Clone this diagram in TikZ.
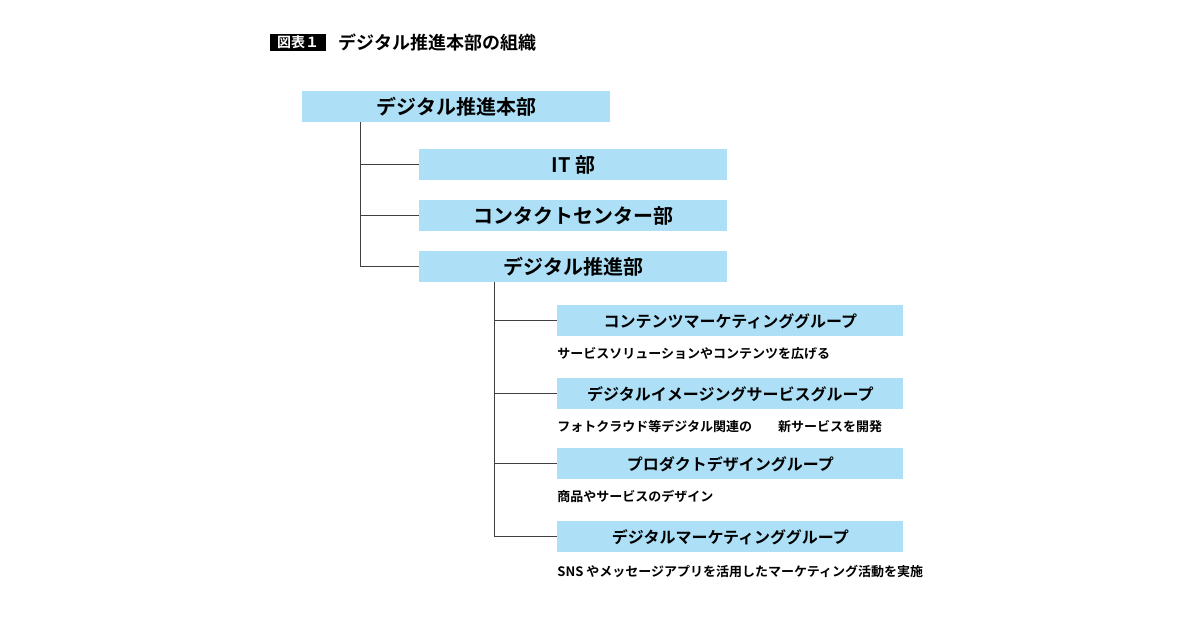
\documentclass[tikz,border=0pt]{standalone}
\usepackage{fontspec}
\newfontfamily\jp{Noto Sans CJK JP}[BoldFont={Noto Sans CJK JP Bold}]
\definecolor{boxblue}{HTML}{ADE0F7}
\begin{document}
\begin{tikzpicture}[x=0.5pt,y=-0.5pt,font=\jp\bfseries,
  bx/.style={fill=boxblue,draw=none,inner sep=0pt,anchor=north west},
  ln/.style={draw=black!75,line width=0.5pt},
  desc/.style={anchor=west,inner sep=0pt,font=\jp\bfseries\fontsize{6.5}{7}\selectfont}]
\useasboundingbox (0,0) rectangle (1200,630);
\fill[black] (270,34) rectangle (326,51);
\node[text=white,font=\jp\bfseries\fontsize{7}{8}\selectfont] (lab) at (298,42.5) {図表１};
\node[anchor=west,inner sep=0pt,font=\jp\bfseries\fontsize{9}{10}\selectfont] (title) at (338,42.5) {デジタル推進本部の組織};
\def\big{\fontsize{10}{12}\selectfont}
\def\mid{\fontsize{8}{10}\selectfont}
\node[bx,minimum width=154pt,minimum height=15.5pt,font=\jp\bfseries\big] (top) at (302,91) {デジタル推進本部};
\node[bx,minimum width=154pt,minimum height=15.5pt,font=\jp\bfseries\big] (it) at (419,149) {IT 部};
\node[bx,minimum width=154pt,minimum height=15.5pt,font=\jp\bfseries\big] (cc) at (419,200) {コンタクトセンター部};
\node[bx,minimum width=154pt,minimum height=15.5pt,font=\jp\bfseries\big] (dp) at (419,251) {デジタル推進部};
\node[bx,minimum width=173pt,minimum height=15.5pt,font=\jp\bfseries\mid] (g1) at (557,305) {コンテンツマーケティンググループ};
\node[bx,minimum width=173pt,minimum height=15.5pt,font=\jp\bfseries\mid] (g2) at (557,378) {デジタルイメージングサービスグループ};
\node[bx,minimum width=173pt,minimum height=15.5pt,font=\jp\bfseries\mid] (g3) at (557,448) {プロダクトデザイングループ};
\node[bx,minimum width=173pt,minimum height=15.5pt,font=\jp\bfseries\mid] (g4) at (557,521) {デジタルマーケティンググループ};
\node[desc] (d1) at (557,354) {サービスソリューションやコンテンツを広げる};
\node[desc] (d2) at (557,426) {フォトクラウド等デジタル関連の　　新サービスを開発};
\node[desc] (d3) at (557,496) {商品やサービスのデザイン};
\node[desc] (d4) at (557,572) {SNS やメッセージアプリを活用したマーケティング活動を実施};
\coordinate (a) at (360,122);
\coordinate (b) at (494,282);
\draw[ln] (a) |- (it.west) (a) |- (cc.west) (a) |- (dp.west);
\draw[ln] (b) |- (g1.west) (b) |- (g2.west) (b) |- (g3.west) (b) |- (g4.west);
\end{tikzpicture}
\end{document}
